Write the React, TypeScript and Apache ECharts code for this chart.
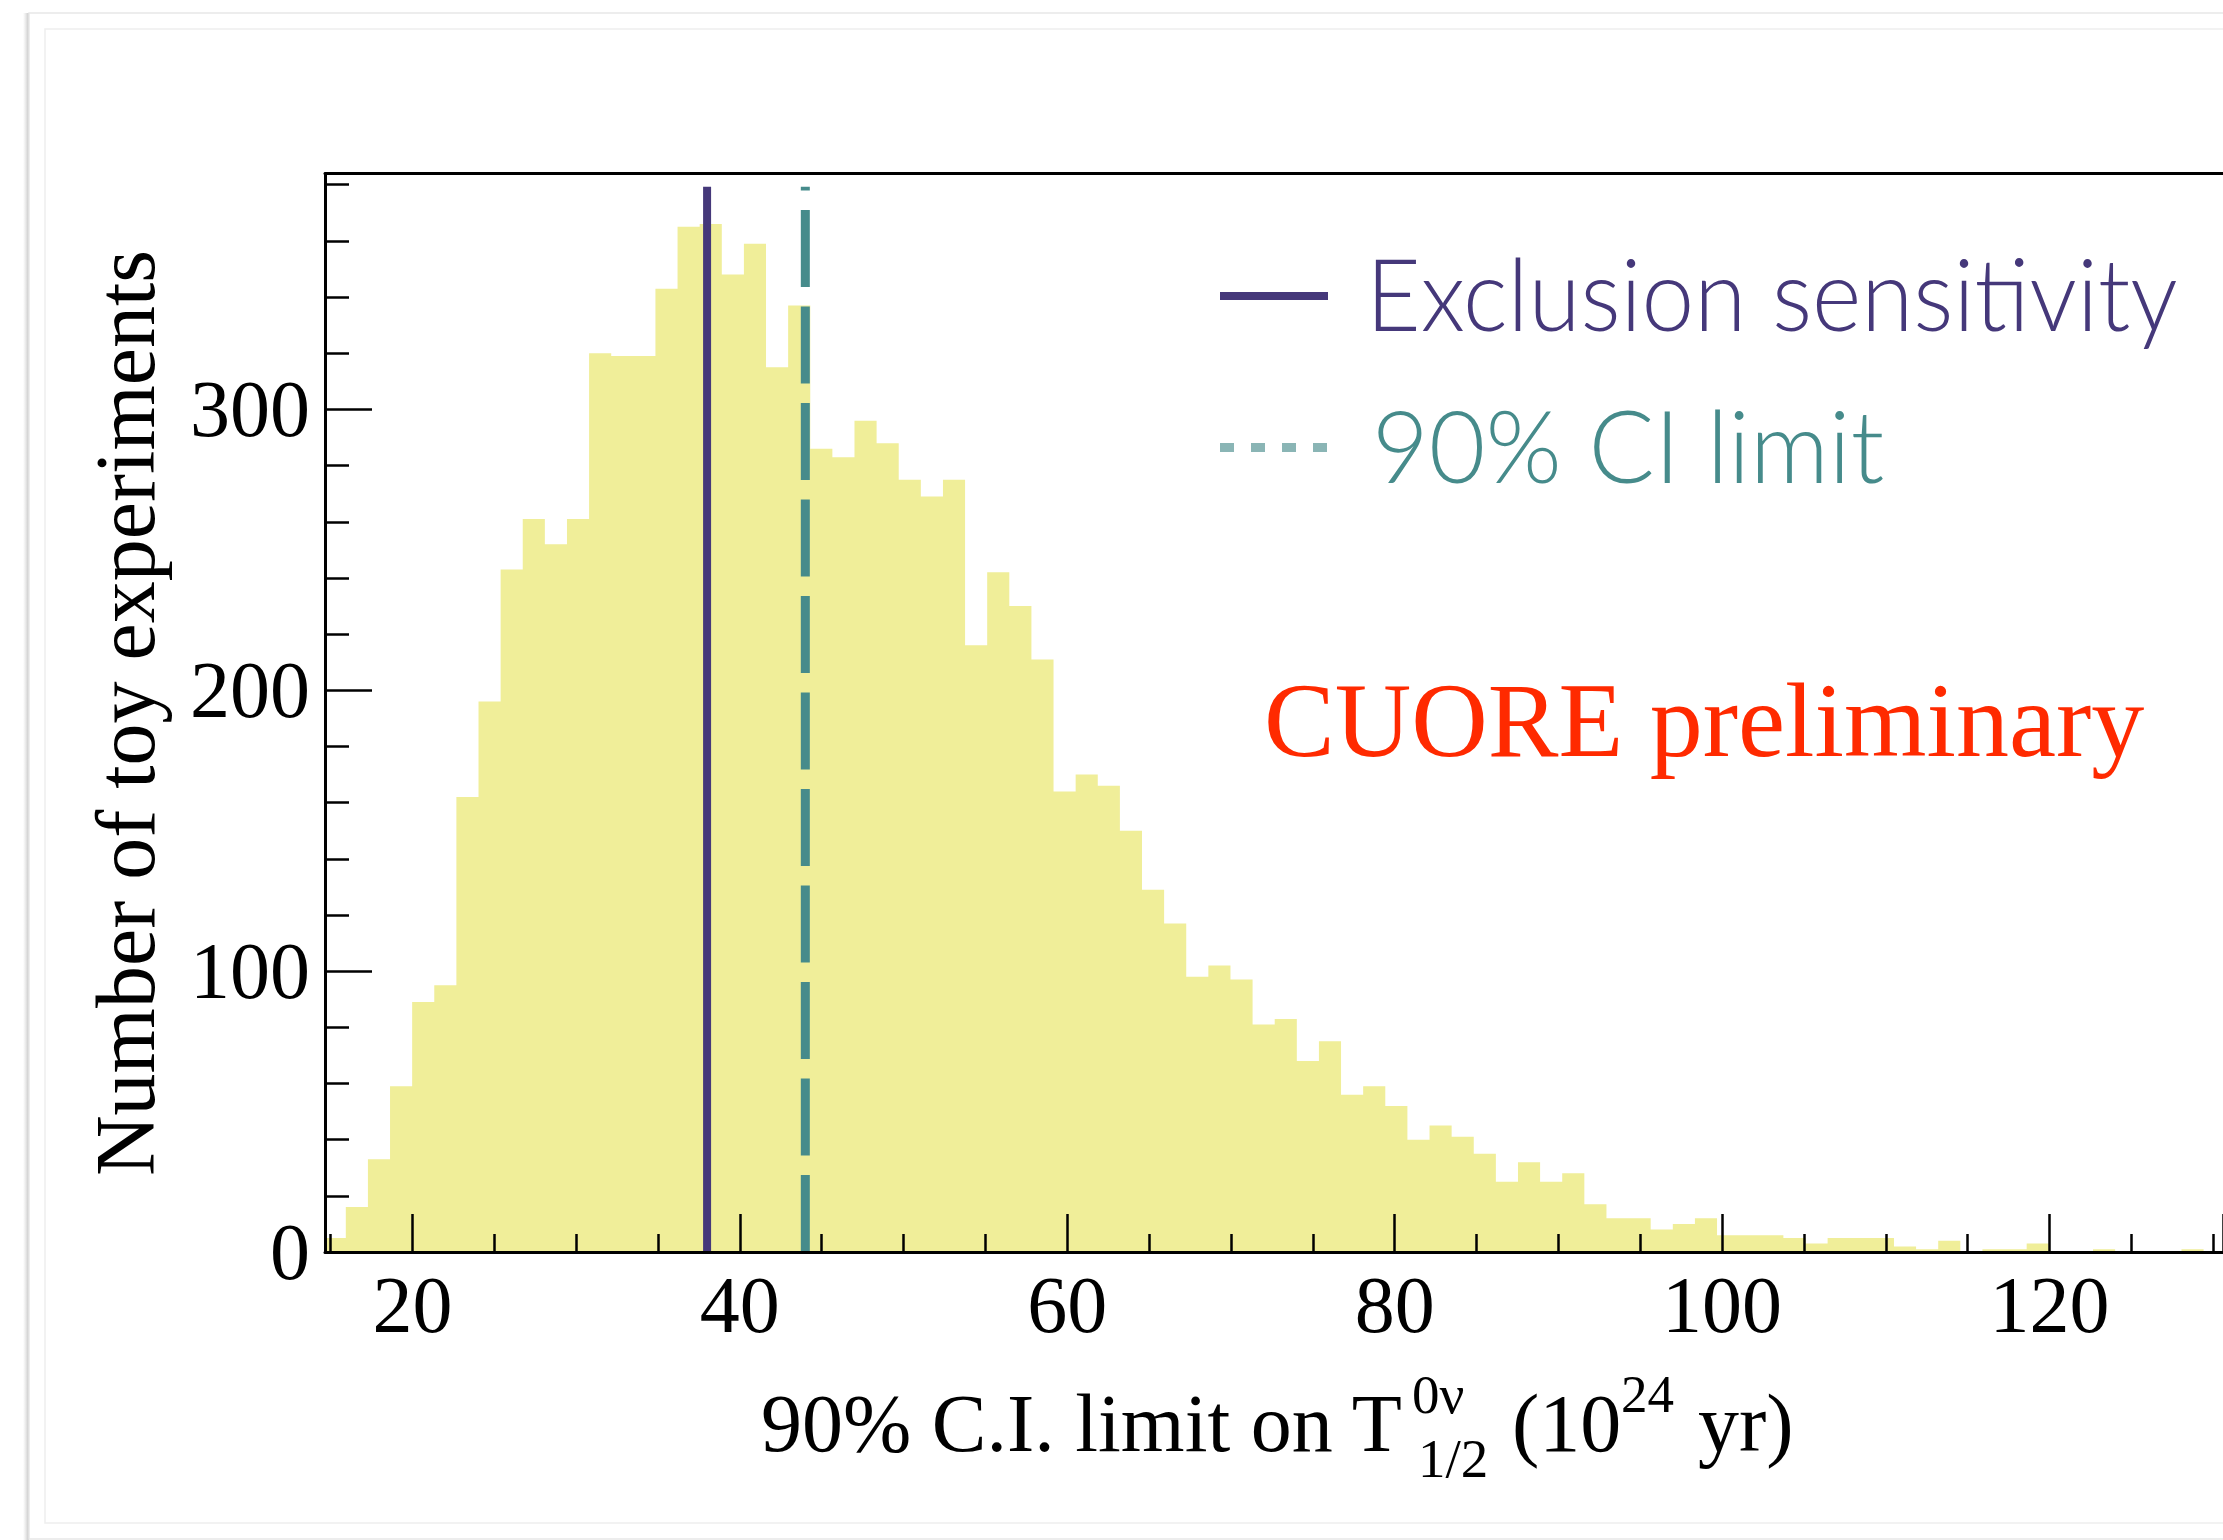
import React, { useEffect, useRef } from "react";
import * as echarts from "echarts";

// ---- data ----
const binStart = 14.58; // lower edge of first bin (10^24 yr)
const binWidth = 1.351;
const counts = [
  5, 16, 33, 59, 89, 95, 162, 196, 243, 261, 252, 261, 320, 319, 319, 343, 365, 366,
  348, 359, 315, 337, 286, 283, 296, 288, 275, 269, 275, 216, 242, 230, 211, 164, 170,
  166, 150, 129, 117, 98, 102, 97, 81, 83, 68, 75, 56, 59, 52, 40, 45, 41, 35, 25, 32,
  25, 28, 17, 12, 12, 8, 10, 12, 6, 6, 6, 5, 3, 5, 5, 5, 2, 1, 4, 0, 1, 1, 3, 0, 0, 1,
  0, 0, 0, 1, 0,
];
const exclusionSensitivity = 38.0;
const ciLimit = 44.0;
const markerTop = 379.3;
const xRange = [14.66, 130.6];
const yRange = [0, 384];
const xTickLabels = [20, 40, 60, 80, 100, 120];
const yTickLabels = [0, 100, 200, 300];

const FILL = "#F0EE99";
const PURPLE = "#45387A";
const TEAL = "#468B8B";
const TEAL_LIGHT = "#8AB5B5";
const RED = "#FF2A00";
const SERIF = '"Liberation Serif", "Times New Roman", Times, serif';
const SANS = 'Lato, "Open Sans", sans-serif';

export default function App() {
  const ref = useRef<HTMLDivElement>(null);

  useEffect(() => {
    if (!ref.current) return;
    const chart = echarts.init(ref.current, undefined, { renderer: "svg" });

    const histData: number[][] = counts.map((c, i) => [binStart + i * binWidth, c]);
    histData.push([binStart + counts.length * binWidth, counts[counts.length - 1]]);

    // measure legend texts to fit the reference widths
    let scale1 = 1;
    let scale2 = 1;
    try {
      const ctx = document.createElement("canvas").getContext("2d");
      if (ctx) {
        ctx.font = "300 100px Lato";
        const w1 = ctx.measureText("Exclusion sensitivity").width;
        const w2 = ctx.measureText("90% CI limit").width;
        if (w1 > 0) scale1 = Math.min(1.25, Math.max(0.75, 812 / w1));
        if (w2 > 0) scale2 = Math.min(1.25, Math.max(0.75, 512 / w2));
      }
    } catch (e) {}

    const axisLineStyle = { color: "#000", width: 3 };
    const tickStyle = { color: "#000", width: 2.5 };

    const option: any = {
      animation: false,
      backgroundColor: "#ffffff",
      grid: {
        left: 325,
        right: 0,
        top: 173.5,
        bottom: 288,
        containLabel: false,
        outerBoundsMode: "none",
      },
      xAxis: [
        {
          type: "value",
          position: "bottom",
          min: xRange[0],
          max: xRange[1],
          splitNumber: 5,
          minInterval: 20,
          maxInterval: 20,
          z: 5,
          axisLine: { show: true, onZero: false, lineStyle: axisLineStyle },
          axisTick: { show: true, inside: true, length: 38, lineStyle: tickStyle },
          minorTick: { show: true, splitNumber: 4, length: 18, lineStyle: tickStyle },
          splitLine: { show: false },
          minorSplitLine: { show: false },
          axisLabel: {
            show: true,
            margin: 13,
            color: "#000",
            fontFamily: SERIF,
            fontSize: 80,
            formatter: (v: number) =>
              xTickLabels.some((t) => Math.abs(t - v) < 1e-6) ? String(Math.round(v)) : "",
          },
        },
        {
          type: "value",
          position: "top",
          min: xRange[0],
          max: xRange[1],
          z: 5,
          axisLine: { show: true, onZero: false, lineStyle: axisLineStyle },
          axisTick: { show: false },
          minorTick: { show: false },
          axisLabel: { show: false },
          splitLine: { show: false },
        },
      ],
      yAxis: {
        type: "value",
        min: yRange[0],
        max: yRange[1],
        interval: 100,
        z: 5,
        axisLine: { show: true, onZero: false, lineStyle: axisLineStyle },
        axisTick: { show: true, inside: true, length: 47, lineStyle: tickStyle },
        minorTick: { show: true, splitNumber: 5, length: 24, lineStyle: tickStyle },
        splitLine: { show: false },
        minorSplitLine: { show: false },
        axisLabel: {
          show: true,
          margin: 15,
          color: "#000",
          fontFamily: SERIF,
          fontSize: 80,
          formatter: (v: number) =>
            yTickLabels.some((t) => Math.abs(t - v) < 1e-6) ? String(Math.round(v)) : "",
        },
      },
      series: [
        {
          name: "toys",
          type: "line",
          step: "end",
          data: histData,
          symbol: "none",
          showSymbol: false,
          lineStyle: { width: 0, color: FILL },
          areaStyle: { color: FILL, opacity: 1 },
          silent: true,
          clip: true,
          z: 2,
        },
        {
          name: "Exclusion sensitivity",
          type: "line",
          data: [
            [exclusionSensitivity, 0],
            [exclusionSensitivity, markerTop],
          ],
          symbol: "none",
          lineStyle: { color: PURPLE, width: 8, cap: "butt" },
          silent: true,
          z: 3,
        },
        {
          name: "90% CI limit",
          type: "line",
          data: [
            [ciLimit, 0],
            [ciLimit, markerTop],
          ],
          symbol: "none",
          lineStyle: { color: TEAL, width: 9, type: [77, 19.5], cap: "butt" },
          silent: true,
          z: 3,
        },
      ],
      graphic: [
        // slide frame decoration
        {
          type: "rect",
          z: 0,
          shape: { x: 23, y: 13, width: 6, height: 1540 },
          style: {
            fill: new echarts.graphic.LinearGradient(0, 0, 1, 0, [
              { offset: 0, color: "rgba(215,215,215,0)" },
              { offset: 1, color: "rgba(195,195,195,1)" },
            ]),
          },
          silent: true,
        },
        {
          type: "rect",
          z: 0,
          shape: { x: 29, y: 13, width: 2300, height: 1526 },
          style: { fill: "none", stroke: "#e8e8e8", lineWidth: 1.5 },
          silent: true,
        },
        {
          type: "rect",
          z: 0,
          shape: { x: 45, y: 29, width: 2300, height: 1494 },
          style: { fill: "none", stroke: "#eeeeee", lineWidth: 1.5 },
          silent: true,
        },
        // y-axis title
        {
          type: "text",
          z: 10,
          x: 125,
          y: 713,
          rotation: Math.PI / 2,
          style: {
            text: "Number of toy experiments",
            fontFamily: SERIF,
            fontSize: 84,
            fill: "#000",
            align: "center",
            verticalAlign: "middle",
          },
        },
        // x-axis title pieces
        {
          type: "text",
          z: 10,
          x: 761,
          y: 1423.7,
          style: { text: "90% C.I. limit on T", fontFamily: SERIF, fontSize: 82, fill: "#000", align: "left", verticalAlign: "middle" },
        },
        {
          type: "text",
          z: 10,
          x: 1412,
          y: 1394.5,
          style: { text: "0ν", fontFamily: SERIF, fontSize: 55, fill: "#000", align: "left", verticalAlign: "middle" },
        },
        {
          type: "text",
          z: 10,
          x: 1418,
          y: 1458,
          style: { text: "1/2", fontFamily: SERIF, fontSize: 55, fill: "#000", align: "left", verticalAlign: "middle" },
        },
        {
          type: "text",
          z: 10,
          x: 1512,
          y: 1423.7,
          style: { text: "(10", fontFamily: SERIF, fontSize: 82, fill: "#000", align: "left", verticalAlign: "middle" },
        },
        {
          type: "text",
          z: 10,
          x: 1621,
          y: 1393.5,
          style: { text: "24", fontFamily: SERIF, fontSize: 53, fill: "#000", align: "left", verticalAlign: "middle" },
        },
        {
          type: "text",
          z: 10,
          x: 1698,
          y: 1423.7,
          style: { text: "yr)", fontFamily: SERIF, fontSize: 82, fill: "#000", align: "left", verticalAlign: "middle" },
        },
        // legend
        {
          type: "line",
          z: 10,
          shape: { x1: 1220, y1: 296, x2: 1328, y2: 296 },
          style: { stroke: PURPLE, lineWidth: 8 },
        },
        {
          type: "text",
          z: 10,
          x: 1366,
          y: 292,
          scaleX: scale1,
          style: { text: "Exclusion sensitivity", fontFamily: SANS, fontWeight: 300, fontSize: 100, fill: PURPLE, align: "left", verticalAlign: "middle" },
        },
        {
          type: "line",
          z: 10,
          shape: { x1: 1220, y1: 447.5, x2: 1328, y2: 447.5 },
          style: { stroke: TEAL_LIGHT, lineWidth: 9, lineDash: [14, 17] },
        },
        {
          type: "text",
          z: 10,
          x: 1372,
          y: 444.3,
          scaleX: scale2,
          style: { text: "90% CI limit", fontFamily: SANS, fontWeight: 300, fontSize: 100, fill: TEAL, align: "left", verticalAlign: "middle" },
        },
        // annotation
        {
          type: "text",
          z: 10,
          x: 1264,
          y: 720.2,
          style: { text: "CUORE preliminary", fontFamily: SERIF, fontSize: 106, fill: RED, align: "left", verticalAlign: "middle" },
        },
      ],
    };

    chart.setOption(option);
    return () => chart.dispose();
  }, []);

  return (
    <div
      ref={ref}
      style={{ position: "absolute", left: 0, top: 0, width: 2223, height: 1540, background: "#fff" }}
    />
  );
}
